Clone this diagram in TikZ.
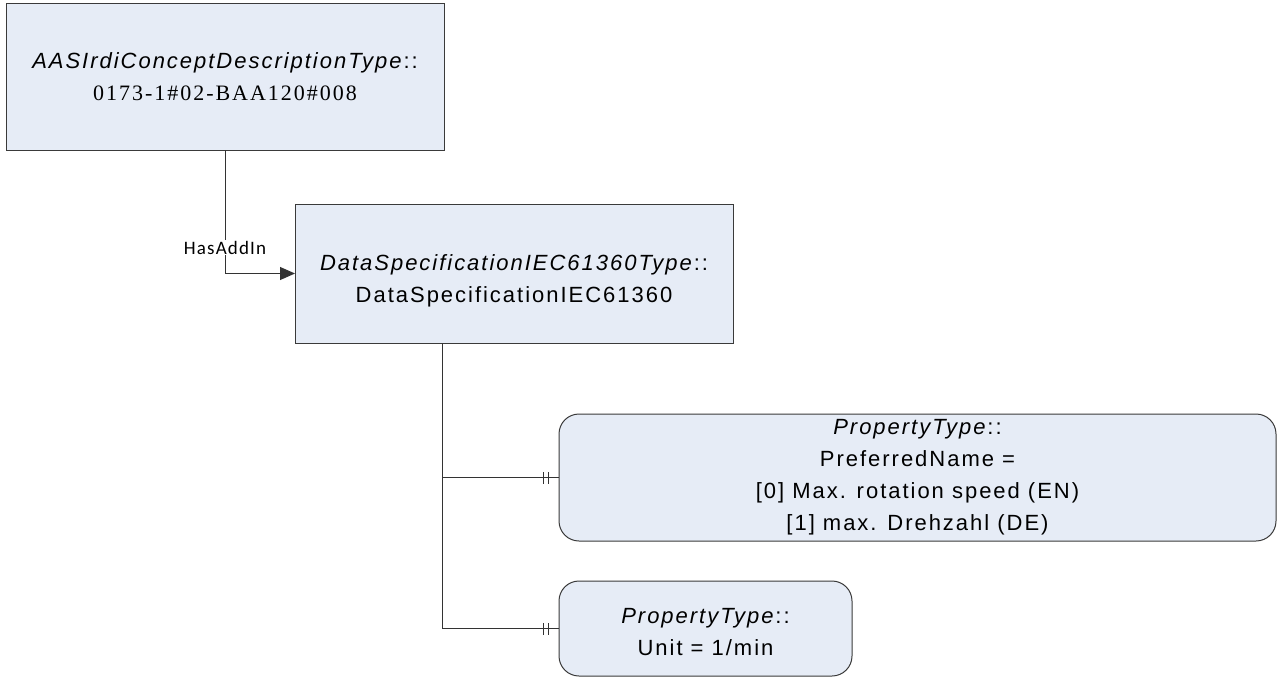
\documentclass[tikz,border=0pt]{standalone}
\usepackage{fontspec}
\usetikzlibrary{arrows.meta}
\newfontfamily\arl{Liberation Sans}[LetterSpace=9]
\newfontfamily\tms{Liberation Serif}[LetterSpace=9]
\newfontfamily\calfont{Carlito}[LetterSpace=6]
\definecolor{boxfill}{HTML}{E6ECF6}
\definecolor{boxline}{HTML}{3A3A3A}
\definecolor{conn}{HTML}{333333}
\tikzset{
  umlbox/.style={draw=boxline, line width=1pt, fill=boxfill, inner sep=0pt, outer sep=0pt,
    align=center, font=\arl\fontsize{22}{32}\selectfont},
  roundbox/.style={umlbox, rounded corners=20pt},
  link/.style={draw=conn, line width=1pt},
  lbl/.style={fill=white, inner sep=1pt, font=\calfont\fontsize{19}{22}\selectfont}
}
\begin{document}
\begin{tikzpicture}[x=1pt, y=-1pt]
\useasboundingbox (0,0) rectangle (1277,677);
\node[umlbox, minimum width=438pt, minimum height=146pt] (b1) at (225,77)
  {\textit{AASIrdiConceptDescriptionType}::\\{\tms 0173-1\#02-BAA120\#008}};
\node[umlbox, minimum width=438pt, minimum height=139pt] (b2) at (514,273.5)
  {\rule{0pt}{30pt}\textit{DataSpecificationIEC61360Type}::\\DataSpecificationIEC61360};
\node[roundbox, minimum width=717pt, minimum height=127pt] (b3) at (917.5,477.5)
  {\textit{PropertyType}::\\PreferredName =\\{}[0] Max. rotation speed (EN)\\{}[1] max. Drehzahl (DE)};
\node[roundbox, minimum width=293pt, minimum height=95pt] (b4) at (705.5,628.5)
  {\rule{0pt}{23pt}\textit{PropertyType}::\\Unit = 1/min};
% HasAddIn
\draw[link, -{Triangle[length=15pt, width=13pt]}] (b1.south) |- (b2.west)
  node[lbl, pos=0.395] {HasAddIn};
% composition trunk
\coordinate (t) at ([xshift=147pt]b2.south west);
\draw[link] (t) |- (b3.west);
\draw[link] (t) |- (b4.west);
\foreach \b in {b3,b4}{
  \draw[link] ([xshift=-16pt,yshift=-6pt]\b.west) -- ([xshift=-16pt,yshift=6pt]\b.west);
  \draw[link] ([xshift=-11pt,yshift=-6pt]\b.west) -- ([xshift=-11pt,yshift=6pt]\b.west);
}
\end{tikzpicture}
\end{document}
